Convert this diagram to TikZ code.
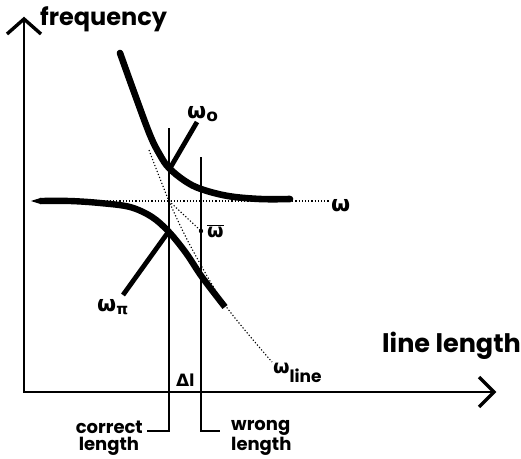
\documentclass[tikz,border=0pt]{standalone}
\usepackage{fontspec}
\setmainfont{Poppins}
\newfontfamily\grk{DejaVu Sans}
\begin{document}
\begin{tikzpicture}[x=1pt,y=-1pt,
  axisline/.style={line width=2.6pt},
  tip/.style={line width=3.4pt,line join=miter},
  thickcurve/.style={line width=6.6pt,line cap=round},
  pointer/.style={line width=4.8pt},
  vline/.style={line width=2.4pt},
  dots/.style={line width=1.1pt,dash pattern=on 1.2pt off 2pt},
  lbl/.style={font=\bfseries\fontsize{18}{16.5}\selectfont,inner sep=0pt},
  om/.style={font=\grk\bfseries\fontsize{22}{22}\selectfont,inner sep=0pt},
  big/.style={font=\bfseries\fontsize{24}{24}\selectfont,inner sep=0pt}]
\useasboundingbox (0,0) rectangle (521,458);
% axes
\coordinate (o) at (24,392);
\coordinate (ytop) at (24,19);
\coordinate (xend) at (494,392);
\draw[axisline] (ytop) -- (o) -- (xend);
\draw[tip] (7,34) -- (ytop) -- (41,34);
\draw[tip] (479,377) -- (xend) -- (479,407);
\node[big,anchor=base west] (fq) at (40,25) {frequency};
\node[big,anchor=base west,font=\bfseries\fontsize{25.5}{25}\selectfont] (ll) at (382,352) {line length};
% dotted omega level
\coordinate (w0) at (33,201);
\coordinate (w1) at (330,201);
\coordinate (c0) at (169,201);
\draw[dots] (w0) -- (w1);
\node[om,anchor=base west] (wlab) at (331,211) {ω};
% omega line dotted
\draw[dots] plot[smooth,tension=0.5] coordinates {(149,150) (c0) (191,247) (225,305) (272,362)};
\coordinate (wb) at (201,231);
\draw[dots] (c0) -- (wb);
\fill (wb) circle (2.2);
\fill (c0) circle (1.6);
% vertical lines
\coordinate (ct) at (169,128);
\coordinate (cb) at (169,431);
\coordinate (ch) at (147,431);
\coordinate (wt) at (201,157);
\coordinate (wbb) at (201,431);
\coordinate (wh) at (220,431);
\draw[vline] (ct) -- (cb) -- (ch);
\draw[vline] (wt) -- (wbb) -- (wh);
% curves
\draw[thickcurve] plot[smooth,tension=0.6] coordinates {(120,53) (134,92) (150,135) (160,155) (169,168) (185,181) (201,189) (228,196) (260,199) (290,199)};
\fill (31,201) -- (41,197.8) -- (41,204.2) -- cycle;
\draw[line width=6.4pt] plot[smooth,tension=0.55] coordinates {(40,201) (70,201) (100,203) (130,207) (152,217) (169,232) (186,253) (202,277) (225,307)};
% pointer lines
\coordinate (po) at (169,170);
\coordinate (pp) at (169,231);
\draw[pointer] (po) -- (197,122) coordinate (poe);
\draw[pointer] (pp) -- (123,295) coordinate (ppe);
% labels
\node[om,anchor=base west] (wo) at (187,118) {ω\raisebox{-3pt}{\fontsize{17}{17}\selectfont o}};
\node[om,anchor=base west] (wp) at (97,311) {ω\raisebox{-3pt}{\fontsize{15}{15}\selectfont π}};
\node[om,anchor=base west,font=\grk\bfseries\fontsize{19}{19}\selectfont] (wl) at (273,373) {ω\raisebox{-9pt}{\fontsize{17}{17}\selectfont\rmfamily\bfseries line}};
\node[om,anchor=base west,font=\grk\bfseries\fontsize{19}{19}\selectfont] (wbar) at (207,237) {$\overline{\mbox{ω}}$};
\node[lbl,anchor=base west,font=\bfseries\fontsize{17}{17}\selectfont] (dl) at (176,386) {{\grk Δ}l};
\node[lbl,anchor=base east,align=right] (cl) at (143,450) {correct\\\hbox to 64pt{length\hfil}};
\node[lbl,anchor=base west,align=left] (wl2) at (231,450) {wrong\\length};
\end{tikzpicture}
\end{document}
